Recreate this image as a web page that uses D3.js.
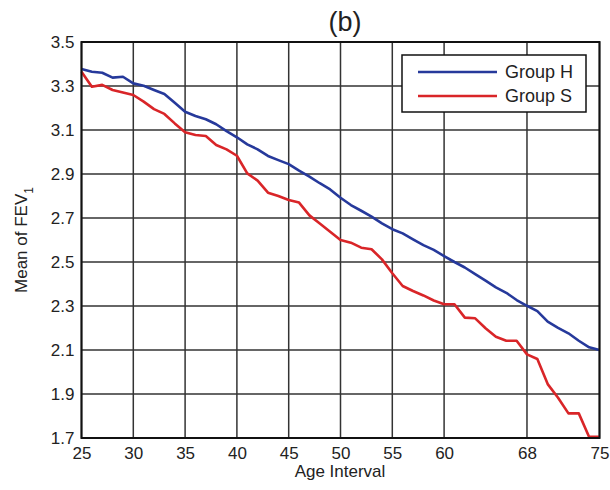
<!DOCTYPE html>
<html><head><meta charset="utf-8">
<script src="https://cdn.jsdelivr.net/npm/d3@7"></script>
<style>body{margin:0;background:#fff}svg{display:block}text{font-family:"Liberation Sans",Arial,Helvetica,sans-serif;fill:#222}</style>
</head><body>
<script>
const ages = d3.range(25, 76);
const groupH = [3.377,3.365,3.360,3.338,3.342,3.312,3.301,3.282,3.264,3.224,3.183,3.164,3.149,3.126,3.095,3.067,3.035,3.012,2.982,2.963,2.945,2.915,2.888,2.858,2.830,2.792,2.759,2.733,2.706,2.676,2.649,2.630,2.603,2.577,2.555,2.527,2.500,2.475,2.445,2.415,2.385,2.360,2.327,2.301,2.277,2.229,2.201,2.176,2.142,2.112,2.100];
const groupS = [3.365,3.297,3.305,3.282,3.270,3.259,3.229,3.195,3.173,3.130,3.090,3.077,3.073,3.032,3.012,2.983,2.903,2.870,2.815,2.800,2.782,2.770,2.712,2.675,2.637,2.600,2.588,2.565,2.558,2.512,2.449,2.391,2.368,2.348,2.325,2.308,2.308,2.247,2.244,2.199,2.160,2.142,2.142,2.080,2.059,1.945,1.883,1.812,1.812,1.705,1.705];
const xTicks = [25,30,35,40,45,50,55,60,68,75];
const yTicks = [1.7,1.9,2.1,2.3,2.5,2.7,2.9,3.1,3.3,3.5];
const seriesNames = ["Group H","Group S"];
const seriesColors = ["#26399b","#d92528"];

const W=610,H=490, L=81.5, R=599.5, T=42, B=438;
const svg=d3.select("body").append("svg").attr("width",W).attr("height",H);
const x=d3.scaleLinear().domain([25,75]).range([L,R]);
const y=d3.scaleLinear().domain([1.7,3.5]).range([B,T]);

// grid
const g=svg.append("g");
g.selectAll(".vg").data(xTicks).join("line").attr("x1",d=>x(d)).attr("x2",d=>x(d)).attr("y1",T).attr("y2",B).attr("stroke","#333").attr("stroke-width",1.5);
g.selectAll(".hg").data(yTicks).join("line").attr("y1",d=>y(d)).attr("y2",d=>y(d)).attr("x1",L).attr("x2",R).attr("stroke","#333").attr("stroke-width",1.5);

// axes labels via d3 axes
const xAxis=svg.append("g").attr("transform",`translate(0,${B})`).call(d3.axisBottom(x).tickValues(xTicks).tickSize(0).tickPadding(7).tickFormat(d3.format("d")));
const yAxis=svg.append("g").attr("transform",`translate(${L},0)`).call(d3.axisLeft(y).tickValues(yTicks).tickSize(0).tickPadding(7).tickFormat(d3.format(".1f")));
[xAxis,yAxis].forEach(a=>{a.select(".domain").remove();a.selectAll("text").attr("font-size",17).style("font-family","Liberation Sans, Arial, sans-serif").attr("fill","#222");});
xAxis.selectAll("text").attr("dy","0.85em");

// lines
const line=d3.line().x((d,i)=>x(ages[i])).y(d=>y(d));
[groupH,groupS].forEach((s,k)=>{
  svg.append("path").datum(s).attr("d",line).attr("fill","none").attr("stroke",seriesColors[k]).attr("stroke-width",2.6).attr("stroke-linejoin","round");
});

// frame
svg.append("rect").attr("x",L).attr("y",T).attr("width",R-L).attr("height",B-T).attr("fill","none").attr("stroke","#111").attr("stroke-width",2);

// legend
const lg=svg.append("g");
lg.append("rect").attr("x",402).attr("y",55).attr("width",184).attr("height",57).attr("fill","#fff").attr("stroke","#111").attr("stroke-width",1.5);
seriesNames.forEach((n,i)=>{
  const yy=72+i*24;
  lg.append("line").attr("x1",418).attr("x2",497).attr("y1",yy).attr("y2",yy).attr("stroke",seriesColors[i]).attr("stroke-width",2.6);
  lg.append("text").attr("x",505).attr("y",yy).attr("dy","0.35em").attr("font-size",18).text(n);
});

// titles
svg.append("text").attr("x",345).attr("y",31).attr("text-anchor","middle").attr("font-size",27).text("(b)");
svg.append("text").attr("x",340).attr("y",477).attr("text-anchor","middle").attr("font-size",17).text("Age Interval");
const yl=svg.append("text").attr("transform","translate(27,240) rotate(-90)").attr("text-anchor","middle").attr("font-size",17);
yl.append("tspan").text("Mean of FEV");
yl.append("tspan").attr("font-size",12).attr("dy",6).text("1");
</script>
</body></html>
